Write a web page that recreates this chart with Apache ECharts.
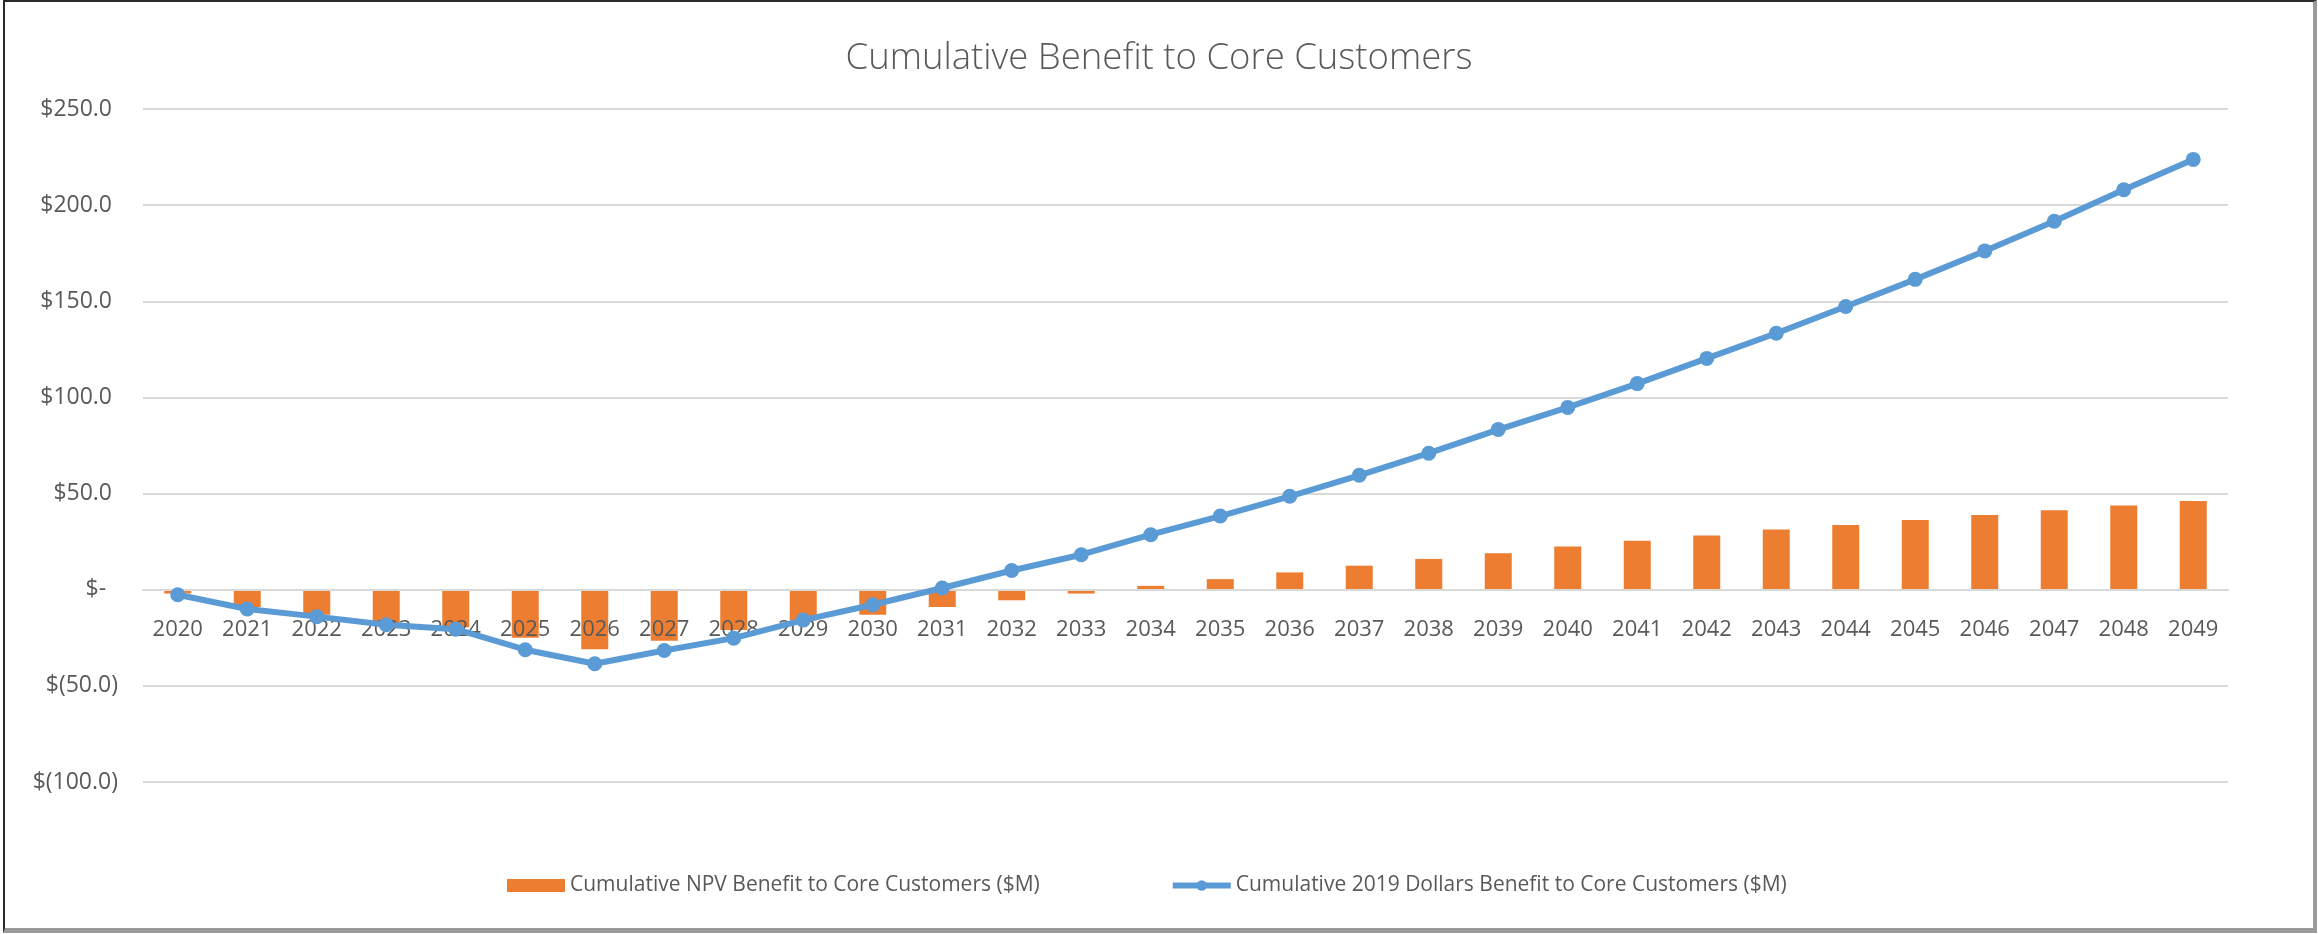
<!DOCTYPE html>
<html>
<head>
<meta charset="utf-8">
<script src="https://cdn.jsdelivr.net/npm/echarts@6/dist/echarts.min.js"></script>
<style>
  html, body { margin: 0; padding: 0; background: #fff; }
  #wrap { position: relative; width: 2318px; height: 934px; overflow: hidden; }
  #chart { position: absolute; left: 0; top: 0; width: 2318px; height: 934px; }
  #frame { position: absolute; left: 3px; top: 0px; width: 2308px; height: 926px;
           border-left: 2px solid #2a2a2a; border-top: 2px solid #2a2a2a;
           border-right: 4px solid #9a9a9a; border-bottom: 5px solid #9a9a9a;
           pointer-events: none; }
</style>
</head>
<body>
<div id="wrap">
  <div id="chart"></div>
  <div id="frame"></div>
</div>
<script>
const years = ['2020','2021','2022','2023','2024','2025','2026','2027','2028','2029',
               '2030','2031','2032','2033','2034','2035','2036','2037','2038','2039',
               '2040','2041','2042','2043','2044','2045','2046','2047','2048','2049'];

const npvBenefit = [-2, -9, -13, -17.5, -19.5, -25, -31, -26.5, -21, -16,
                    -13, -9, -5.5, -2, 2, 5.5, 9, 12.5, 16, 19,
                    22.5, 25.5, 28.2, 31.3, 33.6, 36.3, 38.8, 41.3, 43.8, 46.1];

const dollars2019Benefit = [-2.6, -10, -14, -18.2, -20.5, -31.2, -38.5, -31.6, -25.2, -15.8,
                            -7.8, 0.9, 10, 18.2, 28.6, 38.3, 48.6, 59.5, 71, 83.3,
                            94.8, 107.2, 120.3, 133.4, 147.3, 161.4, 176.2, 191.6, 208, 223.8];

const yTicks = { min: -100, max: 250, interval: 50 };

const titleText = 'Cumulative Benefit to Core Customers';
const seriesNames = ['Cumulative NPV Benefit to Core Customers ($M)',
                     'Cumulative 2019 Dollars Benefit to Core Customers ($M)'];

function fmtMoney(v) {
  if (v === 0) return '$-  ';
  if (v < 0) return '$(' + Math.abs(v).toFixed(1) + ')';
  return '$' + v.toFixed(1) + ' ';
}

const GRID_TOP = 109, GRID_BOTTOM = 152, H = 934;
const plotH = H - GRID_TOP - GRID_BOTTOM;
const zeroOffset = plotH * (0 - yTicks.min) / (yTicks.max - yTicks.min);

const FONT = "'Open Sans', 'Noto Sans', sans-serif";
const chart = echarts.init(document.getElementById('chart'), null, { renderer: 'canvas' });
chart.setOption({
  backgroundColor: 'transparent',
  animation: false,
  title: {
    text: titleText,
    left: 'center',
    top: 35,
    textStyle: { fontFamily: FONT, fontSize: 36.5, fontWeight: 300, color: '#595959' }
  },
  legend: {
    left: 502,
    top: 870,
    itemGap: 130,
    itemWidth: 58,
    itemHeight: 13,
    textStyle: { fontFamily: FONT, fontSize: 21, color: '#595959' },
    data: [
      { name: seriesNames[0], icon: 'rect' },
      { name: seriesNames[1], lineStyle: { width: 6 } }
    ]
  },
  grid: { left: 143, right: 90, top: GRID_TOP, bottom: GRID_BOTTOM, containLabel: false },
  xAxis: {
    type: 'category',
    data: years,
    boundaryGap: true,
    z: 2,
    offset: -zeroOffset,
    axisLine: { onZero: false, lineStyle: { color: '#d9d9d9', width: 2 } },
    axisTick: { show: false },
    axisLabel: { interval: 0, margin: 29, fontFamily: FONT, fontSize: 22, color: '#595959' },
    splitLine: { show: false }
  },
  yAxis: {
    type: 'value',
    min: yTicks.min,
    max: yTicks.max,
    interval: yTicks.interval,
    axisLine: { show: false },
    axisTick: { show: false },
    axisLabel: { margin: 25, fontFamily: FONT, fontSize: 23, color: '#595959', formatter: fmtMoney },
    splitLine: { lineStyle: { color: '#d9d9d9', width: 2 } }
  },
  series: [
    {
      name: seriesNames[0],
      type: 'bar',
      data: npvBenefit,
      barWidth: 27,
      z: 1,
      itemStyle: { color: '#ED7D31' }
    },
    {
      name: seriesNames[1],
      type: 'line',
      data: dollars2019Benefit,
      z: 3,
      symbol: 'circle',
      symbolSize: 15,
      lineStyle: { color: '#5B9BD5', width: 6 },
      itemStyle: { color: '#5B9BD5' }
    }
  ]
});
</script>
</body>
</html>
